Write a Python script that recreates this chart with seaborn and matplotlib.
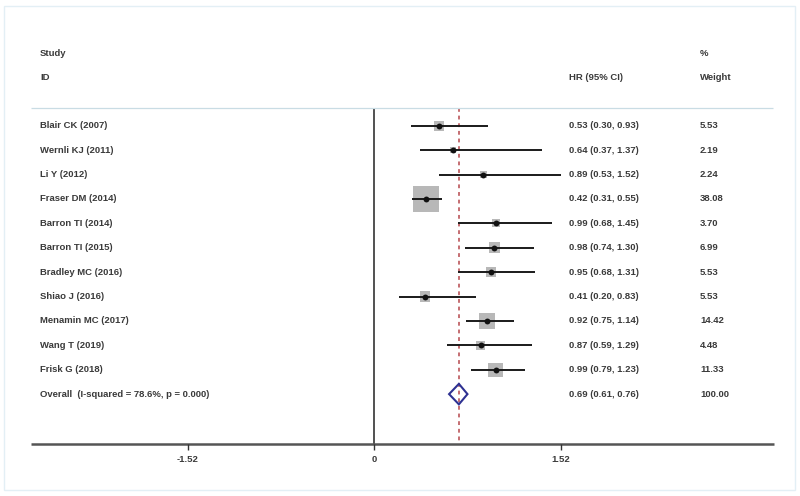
import numpy as np
import pandas as pd
import seaborn as sns
import matplotlib.pyplot as plt
from matplotlib.patches import Polygon, Rectangle

# Study-level results
studies = ["Blair CK (2007)", "Wernli KJ (2011)", "Li Y (2012)", "Fraser DM (2014)",
           "Barron TI (2014)", "Barron TI (2015)", "Bradley MC (2016)", "Shiao J (2016)",
           "Menamin MC (2017)", "Wang T (2019)", "Frisk G (2018)"]
hr = [0.53, 0.64, 0.89, 0.42, 0.99, 0.98, 0.95, 0.41, 0.92, 0.87, 0.99]
ci_lo = [0.30, 0.37, 0.53, 0.31, 0.68, 0.74, 0.68, 0.20, 0.75, 0.59, 0.79]
ci_hi = [0.93, 1.37, 1.52, 0.55, 1.45, 1.30, 1.31, 0.83, 1.14, 1.29, 1.23]
weight = [5.53, 2.19, 2.24, 38.08, 3.70, 6.99, 5.53, 5.53, 14.42, 4.48, 11.33]

overall_label = "Overall  (I-squared = 78.6%, p = 0.000)"
overall_hr, overall_lo, overall_hi = 0.69, 0.61, 0.76
overall_weight = 100.00

xticks = [-1.52, 0, 1.52]

df = pd.DataFrame({"study": studies, "hr": hr, "lo": ci_lo, "hi": ci_hi, "weight": weight})
df["row"] = np.arange(len(df))
overall_row = len(df)

sns.set_theme(style="white")
plt.rcParams['font.family'] = ['Liberation Sans', 'DejaVu Sans']

fig = plt.figure(figsize=(8, 4.96), dpi=100)
ax = fig.add_axes([0, 0, 1, 1])

# x: 0 at 374 px, 122.6 px per unit; y: rows 24.4 px apart, first row at 125.7 px
px_per_unit = 122.6
x0 = 374.3
ax.set_xlim(-x0 / px_per_unit, (800 - x0) / px_per_unit)
row_px, row0 = 24.4, 125.7
ax.set_ylim((496 - row0) / row_px, -row0 / row_px)
ax.axis("off")

def ypx(p):
    return (p - row0) / row_px

text_kw = dict(fontsize=6.8, fontweight="bold", color="#3a3a3a", va="center")
x_label = (40 - x0) / px_per_unit
x_est = (569 - x0) / px_per_unit
x_wt = (700 - x0) / px_per_unit

# header
ax.text(x_label, ypx(53), "Study", **text_kw)
ax.text(x_label, ypx(77.5), "ID", **text_kw)
ax.text(x_est, ypx(77.5), "HR (95% CI)", **text_kw)
ax.text(x_wt, ypx(53), "%", **text_kw)
ax.text(x_wt, ypx(77.5), "Weight", **text_kw)
ax.hlines(ypx(108.5), (31 - x0) / px_per_unit, (773 - x0) / px_per_unit,
          color="#c9dce4", lw=0.9)

# reference lines
y_axis = ypx(443.5)
ax.vlines(0, ypx(108.5), y_axis, color="#222222", lw=1.1, zorder=1)
ax.vlines(overall_hr, ypx(108.5), y_axis, color="#b5474b", lw=1.1,
          linestyles=(0, (2.5, 2.5)), zorder=1)

# weight squares (area proportional to weight)
sns.scatterplot(data=df, x="hr", y="row", size="weight", sizes=(0, 360),
                size_norm=(0, max(weight)), marker="s", color="#b8b8b8",
                linewidth=0, legend=False, ax=ax, zorder=2)
ax.hlines(df["row"], df["lo"], df["hi"], color="#1a1a1a", lw=1.4, zorder=3)
sns.scatterplot(data=df, x="hr", y="row", marker="o", s=18, color="#111111",
                linewidth=0, legend=False, ax=ax, zorder=4)

# pooled estimate diamond
half_h = 0.42
diamond = Polygon([[overall_lo, overall_row], [overall_hr, overall_row - half_h],
                   [overall_hi, overall_row], [overall_hr, overall_row + half_h]],
                  closed=True, fill=False, edgecolor="#2e3192", lw=1.5, zorder=5)
ax.add_patch(diamond)

# row text
for r, s, h, l, u, w in zip(df["row"], studies, hr, ci_lo, ci_hi, weight):
    ax.text(x_label, r, s, **text_kw)
    ax.text(x_est, r, f"{h:.2f} ({l:.2f}, {u:.2f})", **text_kw)
    ax.text(x_wt, r, f"{w:.2f}", **text_kw)
ax.text(x_label, overall_row, overall_label, **text_kw)
ax.text(x_est, overall_row, f"{overall_hr:.2f} ({overall_lo:.2f}, {overall_hi:.2f})", **text_kw)
ax.text(x_wt, overall_row, f"{overall_weight:.2f}", **text_kw)

# x axis
ax.hlines(y_axis, (31 - x0) / px_per_unit, (774 - x0) / px_per_unit,
          color="#555555", lw=1.8, zorder=1)
for t in xticks:
    ax.vlines(t, y_axis, y_axis + 0.25, color="#333333", lw=1.0)
    ax.text(t, ypx(460), f"{t:g}", ha="center", **{k: v for k, v in text_kw.items() if k != "va"},
            va="center")

# faint outer frame
fig.patches.append(Rectangle((4 / 800, 6 / 496), 791 / 800, 484 / 496, transform=fig.transFigure,
                             fill=False, edgecolor="#e3eff5", lw=1.0))

fig.savefig("out.png", dpi=100)
